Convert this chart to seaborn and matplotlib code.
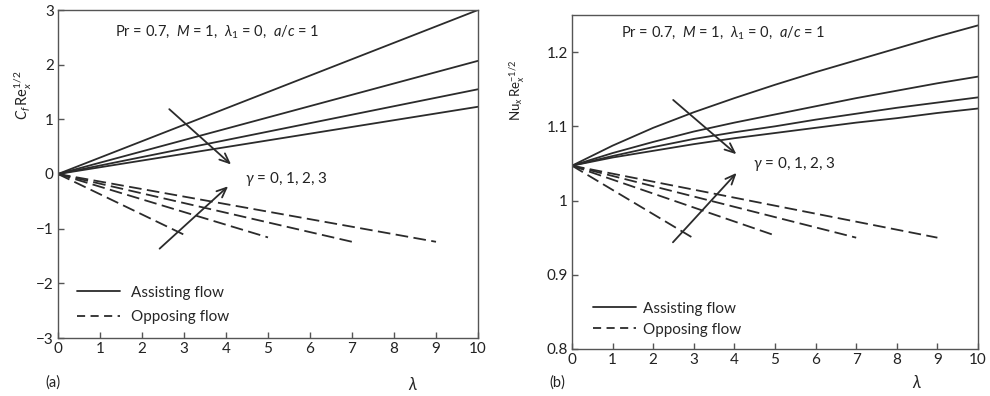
import matplotlib
matplotlib.use("Agg")
import matplotlib.pyplot as plt
import seaborn as sns
import pandas as pd
from matplotlib.lines import Line2D

sns.set_style("ticks")
plt.rcParams["font.family"] = ["Lato", "DejaVu Sans"]
plt.rcParams["mathtext.fontset"] = "custom"
plt.rcParams["mathtext.rm"] = "Lato"
plt.rcParams["mathtext.it"] = "Lato:italic"
plt.rcParams["xtick.direction"] = "in"
plt.rcParams["ytick.direction"] = "in"

# ---- data ----
gammas = [0, 1, 2, 3]

# (a) skin friction, straight lines from the origin
cf_assist_lam = [0, 10]
cf_assist = [[0, 3.0], [0, 2.07], [0, 1.55], [0, 1.23]]
cf_oppose_lam = [[0, 3], [0, 5], [0, 7], [0, 9]]
cf_oppose = [[0, -1.11], [0, -1.16], [0, -1.24], [0, -1.24]]

# (b) Nusselt number
nu_assist_lam = [0, 1, 2, 3, 4, 5, 6, 7, 8, 9, 10]
nu_assist = [
    [1.047, 1.074, 1.098, 1.119, 1.138, 1.156, 1.173, 1.189, 1.205, 1.221, 1.236],
    [1.047, 1.064, 1.079, 1.093, 1.105, 1.116, 1.127, 1.138, 1.148, 1.158, 1.167],
    [1.047, 1.060, 1.072, 1.083, 1.092, 1.100, 1.109, 1.117, 1.125, 1.132, 1.139],
    [1.047, 1.058, 1.067, 1.076, 1.084, 1.091, 1.098, 1.105, 1.111, 1.118, 1.124],
]
nu_oppose_lam = [[0, 3], [0, 5], [0, 7], [0, 9]]
nu_oppose = [[1.047, 0.949], [1.047, 0.953], [1.047, 0.950], [1.047, 0.950]]

x_ticks = list(range(11))
cf_yticks = [-3, -2, -1, 0, 1, 2, 3]
nu_yticks = [0.8, 0.9, 1.0, 1.1, 1.2]
nu_yticklabels = ["0.8", "0.9", "1", "1.1", "1.2"]

params_text = r"Pr = 0.7,  $M$ = 1,  $\lambda_1$ = 0,  $a/c$ = 1"
gamma_text = r"$\gamma$ = 0, 1, 2, 3"

line_col = "#2b2b2b"
text_col = "#222222"
dash = (0, (7, 3))
legend_dash = (0, (4.5, 3))


def draw_panel(ax, assist_lam, assist, oppose_lam, oppose):
    for g, ys in zip(gammas, assist):
        df = pd.DataFrame({"lam": assist_lam, "val": ys})
        sns.lineplot(data=df, x="lam", y="val", ax=ax, color=line_col, lw=1.3)
    for g, xs, ys in zip(gammas, oppose_lam, oppose):
        df = pd.DataFrame({"lam": xs, "val": ys})
        sns.lineplot(data=df, x="lam", y="val", ax=ax, color=line_col, lw=1.3,
                     linestyle=dash)
    for s in ax.spines.values():
        s.set_color("#555555")
        s.set_linewidth(1.0)
    ax.set_xlim(0, 10)
    ax.set_xticks(x_ticks)
    ax.set_xlabel("")
    ax.set_ylabel("")
    ax.tick_params(length=4, width=1, color="#555555", labelsize=11,
                   labelcolor=text_col, pad=3)
    handles = [Line2D([], [], color=line_col, lw=1.3),
               Line2D([], [], color=line_col, lw=1.3, linestyle=legend_dash)]
    return handles


fig = plt.figure(figsize=(9.9, 3.96), dpi=100)
ax1 = fig.add_axes([58 / 990, 1 - 338 / 396, 420 / 990, 328 / 396])
ax2 = fig.add_axes([572 / 990, 1 - 349 / 396, 406 / 990, 334 / 396])

arrow = dict(arrowstyle="->,head_length=0.7,head_width=0.3", color=line_col, lw=1.3)
labels = ["Assisting flow", "Opposing flow"]

# ---- (a) ----
h = draw_panel(ax1, cf_assist_lam, cf_assist, cf_oppose_lam, cf_oppose)
ax1.set_ylim(-3, 3)
ax1.set_yticks(cf_yticks)
ax1.text(1.35, 2.6, params_text, fontsize=10.5, color=text_col, va="center")
ax1.text(4.45, -0.1, gamma_text, fontsize=11, color=text_col, va="center")
ax1.annotate("", xy=(4.17, 0.14), xytext=(2.6, 1.22), arrowprops=arrow)
ax1.annotate("", xy=(4.1, -0.19), xytext=(2.37, -1.4), arrowprops=arrow)
ax1.legend(h, labels, loc="lower left", bbox_to_anchor=(0.013, 0.0),
           frameon=False, fontsize=11, handlelength=2.8, handletextpad=0.75,
           labelspacing=0.7)

# ---- (b) ----
h = draw_panel(ax2, nu_assist_lam, nu_assist, nu_oppose_lam, nu_oppose)
ax2.set_ylim(0.8, 1.25)
ax2.set_yticks(nu_yticks, nu_yticklabels)
ax2.text(1.2, 1.226, params_text, fontsize=10.5, color=text_col, va="center")
ax2.text(4.47, 1.049, gamma_text, fontsize=11, color=text_col, va="center")
ax2.annotate("", xy=(4.1, 1.06), xytext=(2.44, 1.138), arrowprops=arrow)
ax2.annotate("", xy=(4.1, 1.04), xytext=(2.44, 0.941), arrowprops=arrow)
ax2.legend(h, labels, loc="lower left", bbox_to_anchor=(0.018, -0.004),
           frameon=False, fontsize=11, handlelength=2.8, handletextpad=0.5,
           labelspacing=0.45)

# ---- figure texts ----
fig.text(23 / 990, 1 - 95 / 396, r"$C_f\,\mathrm{Re}_x^{1/2}$", rotation=90,
         ha="center", va="center", fontsize=10.5, color=text_col)
fig.text(517 / 990, 1 - 90 / 396, r"$\mathrm{Nu}_x\,\mathrm{Re}_x^{-1/2}$", rotation=90,
         ha="center", va="center", fontsize=9.5, color=text_col)
fig.text(413 / 990, 1 - 384 / 396, r"$\lambda$", ha="center", va="center",
         fontsize=12, color=text_col)
fig.text(917 / 990, 1 - 383 / 396, r"$\lambda$", ha="center", va="center",
         fontsize=12, color=text_col)
fig.text(53 / 990, 1 - 383 / 396, "(a)", ha="center", va="center",
         fontsize=10.5, color=text_col)
fig.text(557 / 990, 1 - 383 / 396, "(b)", ha="center", va="center",
         fontsize=10.5, color=text_col)

fig.savefig("out.png", dpi=100)
